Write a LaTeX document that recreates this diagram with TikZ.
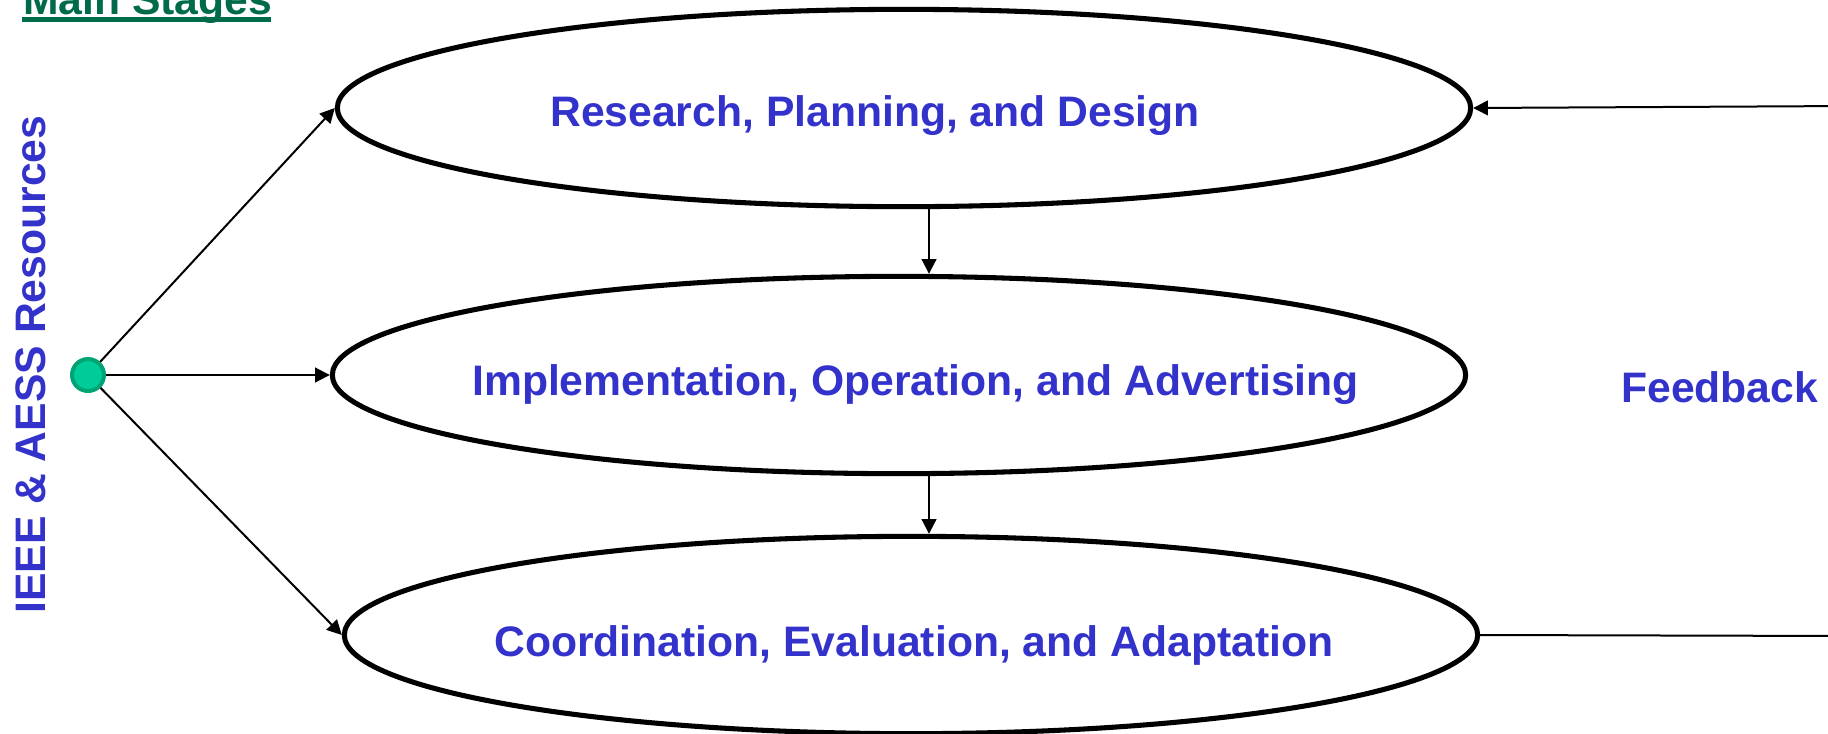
\documentclass[tikz,border=0pt]{standalone}
\usepackage{fontspec}
\setmainfont{Liberation Sans}
\usetikzlibrary{shapes.geometric,arrows.meta,calc}
\definecolor{txtblue}{HTML}{3333CC}
\definecolor{titlegreen}{HTML}{006B4B}
\definecolor{dotfill}{HTML}{00CC99}
\definecolor{dotline}{HTML}{00A374}
\tikzset{
  stage/.style={draw=black, line width=3.8pt, ellipse, inner sep=0pt,
    minimum width=850pt, minimum height=148pt},
  lbl/.style={text=txtblue, font=\fontsize{32}{36}\selectfont\bfseries, inner sep=0pt, anchor=base west},
  conn/.style={line width=1.5pt, -{Triangle[length=11pt,width=11pt]}},
  plain/.style={line width=1.5pt},
}
\begin{document}
\begin{tikzpicture}[x=0.75pt,y=-0.75pt]
\useasboundingbox (0,0) rectangle (1828,733);
\clip (0,0) rectangle (1828,733);
% title
\node[lbl, text=titlegreen] (title) at (23,14) {Main Stages};
\fill[titlegreen] (22,17) rectangle (271,22);
% stages
\node[stage] (e1) at (904,108) {};
\node[stage] (e2) at (899,375) {};
\node[stage] (e3) at (911,635) {};
\node[lbl] (t1) at (550,126) {Research, Planning, and Design};
\node[lbl] (t2) at (472,395) {Implementation, Operation, and Advertising};
\node[lbl] (t3) at (494,656) {Coordination, Evaluation, and Adaptation};
% resources
\node[lbl, rotate=90] (res) at (45,614) {IEEE \& AESS Resources};
\node[circle, fill=dotfill, draw=dotline, line width=3pt, minimum size=24pt, inner sep=0pt] (dot) at (88,375) {};
\draw[conn] (dot) -- (e1.west);
\draw[conn] (dot) -- (e2.west);
\draw[conn] (dot) -- (e3.west);
% sequence
\draw[conn] ([xshift=18.75pt]e1.south) -- ([xshift=22.5pt]e2.north);
\draw[conn] ([xshift=22.5pt]e2.south) -- ([xshift=13.5pt]e3.north);
% feedback
\node[lbl] (fb) at (1621,402) {Feedback};
\coordinate (fbtop) at (1850,106);
\coordinate (fbbot) at (1850,636);
\draw[conn] (fbtop) -- (e1.east);
\draw[plain] (e3.east) -- (fbbot);
\end{tikzpicture}
\end{document}
